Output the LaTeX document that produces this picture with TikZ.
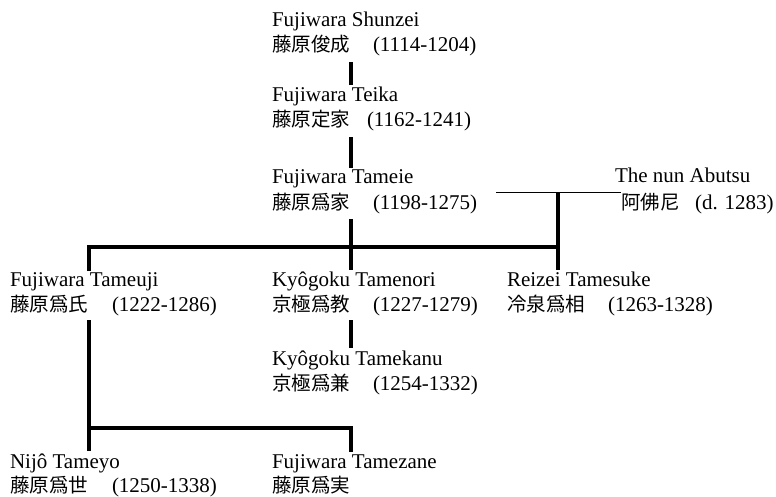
\documentclass[tikz,border=0pt]{standalone}
\usepackage{fontspec}
\setmainfont{Liberation Serif}
\newfontfamily\cjk{Noto Sans CJK JP}
\usetikzlibrary{calc}
\newcommand\jname[1]{{\cjk\fontsize{19.5}{25}\selectfont #1}}
\newcommand\jline[3]{\makebox[#1][l]{\jname{#2}}#3}
\begin{document}
\begin{tikzpicture}[x=1pt,y=-1pt,
  every node/.style={inner sep=0pt, outer sep=0pt, anchor=base west,
    font=\fontsize{21}{25}\selectfont},
  kin/.style={line width=4pt, line join=miter},
  thinkin/.style={line width=1.2pt}]
\useasboundingbox (0,0) rectangle (776,497);
% persons
\node (shunzeiN) at (272,27) {Fujiwara Shunzei};
\node (shunzeiJ) at (272,52) {\jline{101pt}{藤原俊成}{(1114-1204)}};
\node (teikaN) at (272,102) {Fujiwara Teika};
\node (teikaJ) at (272,127) {\jline{95pt}{藤原定家}{(1162-1241)}};
\node (tameieN) at (272,184) {Fujiwara Tameie};
\node (tameieJ) at (272,209) {\jline{101pt}{藤原爲家}{(1198-1275)}};
\node (abutsuN) at (615,183) {The nun Abutsu};
\node (abutsuJ) at (621,210) {\jline{74pt}{阿佛尼}{(d. 1283)}};
\node (tameujiN) at (10,286) {Fujiwara Tameuji};
\node (tameujiJ) at (10,311) {\jline{102pt}{藤原爲氏}{(1222-1286)}};
\node (tamenoriN) at (272,286) {Kyôgoku Tamenori};
\node (tamenoriJ) at (272,311) {\jline{101pt}{京極爲教}{(1227-1279)}};
\node (reizeiN) at (507,286) {Reizei Tamesuke};
\node (reizeiJ) at (507,311) {\jline{101pt}{冷泉爲相}{(1263-1328)}};
\node (tamekanuN) at (272,365) {Kyôgoku Tamekanu};
\node (tamekanuJ) at (272,390) {\jline{101pt}{京極爲兼}{(1254-1332)}};
\node (tameyoN) at (10,468) {Nijô Tameyo};
\node (tameyoJ) at (10,492) {\jline{102pt}{藤原爲世}{(1250-1338)}};
\node (tamezaneN) at (272,468) {Fujiwara Tamezane};
\node (tamezaneJ) at (272,492) {\jname{藤原爲実}};
% junctions
\coordinate (mar) at ($(reizeiN.west |- tameieJ.north)+(51,0)$);
\coordinate (barR) at ($(mar)+(0,54)$);
% connectors
\draw[kin] ([xshift=79pt,yshift=-6pt]shunzeiJ.south west) -- ([xshift=79pt,yshift=2pt]teikaN.north west);
\draw[kin] ([xshift=79pt,yshift=-6pt]teikaJ.south west) -- ([xshift=79pt,yshift=2pt]tameieN.north west);
\draw[kin] ([xshift=79pt,yshift=-6pt]tameieJ.south west) -- ([xshift=79pt,yshift=1pt]tamenoriN.north west);
\draw[thinkin] ([xshift=19pt]tameieJ.north east) -- ($(abutsuN.west |- tameieJ.north)+(6,0)$);
\draw[kin] (mar) -- ([xshift=51pt,yshift=1pt]reizeiN.north west);
\draw[kin] ([xshift=79pt,yshift=1pt]tameujiN.north west) |- (barR);
\draw[kin] ([xshift=79pt,yshift=-5pt]tamenoriJ.south west) -- ([xshift=79pt,yshift=2pt]tamekanuN.north west);
\draw[kin] ([xshift=79pt,yshift=-5pt]tameujiJ.south west) -- ([xshift=79pt,yshift=2pt]tameyoN.north west);
\draw[kin] ($(tameyoN.north west)+(79,-25)$) -| ([xshift=79pt,yshift=2pt]tamezaneN.north west);
\end{tikzpicture}
\end{document}
